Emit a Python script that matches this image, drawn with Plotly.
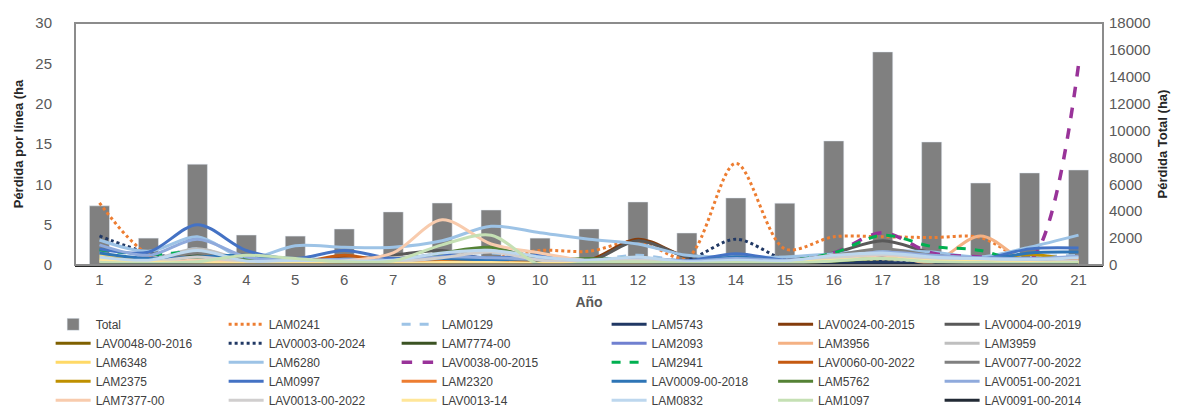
import plotly.graph_objects as go

years = [str(i) for i in range(1, 22)]

total = [4400, 2000, 7500, 2230, 2150, 2680, 3950, 4610, 4090, 2000, 2680,
         4690, 2380, 4990, 4600, 9230, 15850, 9150, 6100, 6850, 7070]

LAM0241 = [7.7, 1.3, 0.5, 0.3, 0.2, 0.5, 0.4, 0.6, 0.8, 1.8, 1.7, 3.0, 0.9, 12.6, 2.0, 3.5, 3.5, 3.4, 3.4, 0.3, 0.2]
LAM0129 = [1.5, 0.8, 2.0, 0.5, 0.8, 0.6, 0.5, 1.2, 1.5, 0.8, 0.6, 1.2, 0.5, 1.0, 0.8, 1.0, 1.5, 1.2, 0.8, 1.0, 1.2]
LAM5743 = [0.2, 0.1, 0.3, 0.1, 0.1, 0.2, 0.1, 0.2, 0.2, 0.1, 0.1, 0.2, 0.1, 0.2, 0.2, 0.3, 0.3, 0.2, 0.2, 0.2, 0.2]
LAV0024_00_2015 = [0.5, 0.3, 1.5, 0.4, 0.3, 1.0, 0.6, 1.0, 0.8, 0.5, 0.6, 3.2, 1.0, 0.6, 0.5, 1.2, 1.8, 1.0, 0.6, 0.4, 0.5]
LAV0004_00_2019 = [0.6, 0.4, 1.8, 0.5, 0.4, 0.6, 1.2, 1.8, 0.6, 0.5, 0.4, 3.0, 1.0, 0.5, 0.6, 1.5, 3.0, 1.5, 0.8, 0.6, 0.7]
LAV0048_00_2016 = [1.0, 0.7, 0.4, 0.3, 0.2, 0.3, 0.2, 0.3, 0.4, 0.3, 0.2, 0.3, 0.2, 0.3, 0.2, 0.5, 0.8, 0.5, 0.4, 0.3, 0.3]
LAV0003_00_2024 = [3.6, 1.5, 0.6, 0.4, 0.3, 0.4, 0.3, 0.5, 0.4, 0.3, 0.3, 0.5, 0.6, 3.2, 0.7, 0.5, 0.6, 0.5, 0.4, 0.3, 0.3]
LAM7774_00 = [0.8, 0.5, 1.2, 0.8, 0.3, 0.4, 0.6, 1.0, 0.8, 0.4, 0.3, 0.5, 0.3, 0.4, 0.3, 0.6, 1.2, 0.6, 0.4, 0.3, 0.4]
LAM2093 = [1.2, 0.5, 0.8, 0.6, 0.5, 0.4, 0.5, 0.9, 0.7, 0.5, 0.4, 0.6, 0.4, 0.5, 0.5, 0.8, 1.0, 0.7, 0.5, 0.6, 0.6]
LAM3956 = [0.6, 0.4, 0.5, 0.3, 0.3, 0.5, 0.4, 0.6, 0.5, 0.3, 0.3, 0.4, 0.3, 0.4, 0.4, 1.0, 1.5, 0.3, 3.6, 0.2, 0.3]
LAM3959 = [0.8, 0.6, 2.0, 0.6, 0.5, 0.7, 0.9, 1.2, 2.0, 1.0, 0.5, 0.8, 0.5, 0.6, 0.6, 1.0, 1.8, 1.0, 0.8, 0.6, 0.7]
LAM6348 = [1.2, 0.5, 0.3, 0.2, 0.2, 0.3, 0.2, 0.3, 0.3, 0.2, 0.2, 0.3, 0.2, 0.3, 0.3, 0.6, 1.0, 0.5, 0.4, 0.4, 0.3]
LAM6280 = [3.1, 1.7, 3.5, 0.8, 2.4, 2.2, 2.2, 3.0, 4.8, 4.0, 3.2, 2.6, 1.2, 1.0, 1.0, 1.4, 1.8, 1.6, 1.0, 2.2, 3.7]
LAV0038_00_2015 = [0.0, 0.0, 0.0, 0.0, 0.0, 0.0, 0.0, 0.0, 0.0, 0.0, 0.0, 0.0, 0.0, 0.0, 0.2, 1.5, 4.0, 1.5, 1.0, 0.5, 24.8]
LAM2941 = [1.9, 1.3, 1.6, 0.8, 0.5, 0.4, 0.5, 0.8, 0.6, 0.5, 0.6, 0.9, 0.4, 0.5, 0.5, 1.5, 3.7, 2.3, 1.8, 0.1, 0.2]
LAV0060_00_2022 = [0.4, 0.3, 0.5, 0.3, 0.2, 1.2, 0.3, 0.5, 0.4, 0.3, 0.3, 0.5, 0.3, 0.4, 0.4, 1.2, 1.5, 0.8, 0.5, 0.3, 0.4]
LAV0077_00_2022 = [0.7, 0.5, 1.5, 0.6, 0.4, 0.5, 0.6, 1.0, 0.8, 0.5, 0.4, 0.8, 0.4, 0.5, 0.5, 1.2, 2.0, 1.2, 0.8, 0.6, 0.6]
LAM2375 = [0.9, 0.6, 0.3, 0.2, 0.2, 0.3, 0.2, 0.4, 0.3, 0.2, 0.2, 0.3, 0.2, 0.3, 0.3, 0.8, 1.0, 0.6, 0.6, 1.3, 0.5]
LAM0997 = [2.0, 1.6, 5.0, 1.8, 0.8, 1.8, 0.8, 1.3, 0.9, 1.2, 0.5, 0.6, 0.5, 1.4, 0.6, 0.8, 1.2, 0.9, 0.7, 2.0, 2.1]
LAM2320 = [0.5, 0.3, 0.4, 0.3, 0.2, 0.3, 0.3, 0.4, 0.3, 0.2, 0.2, 0.3, 0.2, 0.3, 0.3, 1.0, 1.2, 0.6, 0.5, 0.2, 0.8]
LAV0009_00_2018 = [1.5, 0.8, 1.0, 1.2, 0.5, 0.6, 0.5, 0.8, 0.6, 0.9, 0.4, 0.7, 0.4, 1.0, 0.5, 0.7, 1.0, 0.8, 0.6, 1.5, 1.6]
LAM5762 = [0.6, 0.4, 0.7, 0.6, 0.3, 0.4, 0.5, 1.5, 2.2, 0.6, 0.8, 0.5, 0.3, 0.4, 0.3, 0.5, 0.8, 0.5, 0.4, 0.3, 0.4]
LAV0051_00_2021 = [2.5, 1.2, 3.2, 1.0, 0.6, 0.7, 0.6, 1.0, 0.9, 0.7, 0.6, 0.9, 0.5, 0.8, 0.6, 1.0, 1.6, 1.2, 0.9, 0.8, 1.1]
LAM7377_00 = [0.5, 0.3, 0.6, 0.4, 0.3, 0.5, 1.5, 5.6, 2.6, 1.5, 0.5, 0.6, 0.3, 0.4, 0.3, 0.8, 1.2, 0.6, 0.5, 0.3, 0.4]
LAV0013_00_2022 = [0.5, 0.4, 1.0, 0.4, 0.3, 0.4, 0.4, 0.9, 1.6, 0.6, 0.4, 0.6, 0.3, 0.4, 0.4, 0.9, 1.3, 0.8, 0.6, 0.4, 0.5]
LAV0013_14 = [0.7, 0.4, 0.3, 0.2, 0.2, 0.3, 0.2, 0.3, 0.3, 0.2, 0.2, 0.3, 0.2, 0.3, 0.3, 0.6, 0.8, 0.5, 0.4, 0.3, 0.3]
LAM0832 = [1.0, 0.6, 1.8, 0.5, 0.6, 0.5, 0.6, 1.5, 1.8, 1.0, 0.6, 1.0, 0.4, 0.6, 0.5, 1.2, 1.5, 1.0, 0.8, 0.7, 0.9]
LAM1097 = [0.3, 0.2, 0.4, 1.2, 0.8, 0.4, 0.5, 2.5, 3.7, 0.0, 0.3, 0.4, 0.2, 0.3, 0.2, 0.5, 0.8, 0.4, 0.3, 0.2, 0.3]
LAV0091_00_2014 = [0.0, 0.0, 0.0, 0.0, 0.0, 0.0, 0.0, 0.0, 0.0, 0.0, 0.0, 0.0, 0.0, 0.0, 0.0, 0.0, 0.0, 0.0, 0.0, 0.0, 0.0]

# (name, values, color, dash, width) in legend order (after "Total")
series = [
    ("LAM0241", LAM0241, "#ED7D31", "dot", 3),
    ("LAM0129", LAM0129, "#9DC3E6", "dash", 3),
    ("LAM5743", LAM5743, "#203864", "solid", 3),
    ("LAV0024-00-2015", LAV0024_00_2015, "#843C0C", "solid", 3),
    ("LAV0004-00-2019", LAV0004_00_2019, "#595959", "solid", 3),
    ("LAV0048-00-2016", LAV0048_00_2016, "#7F6000", "solid", 3),
    ("LAV0003-00-2024", LAV0003_00_2024, "#203864", "dot", 3),
    ("LAM7774-00", LAM7774_00, "#3B5323", "solid", 3),
    ("LAM2093", LAM2093, "#7080D0", "solid", 3),
    ("LAM3956", LAM3956, "#F4B183", "solid", 3),
    ("LAM3959", LAM3959, "#BFBFBF", "solid", 3),
    ("LAM6348", LAM6348, "#FFD966", "solid", 3),
    ("LAM6280", LAM6280, "#9DC3E6", "solid", 3),
    ("LAV0038-00-2015", LAV0038_00_2015, "#993399", "dash", 3.5),
    ("LAM2941", LAM2941, "#00B050", "dash", 3),
    ("LAV0060-00-2022", LAV0060_00_2022, "#C55A11", "solid", 3),
    ("LAV0077-00-2022", LAV0077_00_2022, "#808080", "solid", 3),
    ("LAM2375", LAM2375, "#BF9000", "solid", 3),
    ("LAM0997", LAM0997, "#4472C4", "solid", 3),
    ("LAM2320", LAM2320, "#ED7D31", "solid", 3),
    ("LAV0009-00-2018", LAV0009_00_2018, "#2E75B6", "solid", 3),
    ("LAM5762", LAM5762, "#548235", "solid", 3),
    ("LAV0051-00-2021", LAV0051_00_2021, "#8FAADC", "solid", 3),
    ("LAM7377-00", LAM7377_00, "#F8CBAD", "solid", 3),
    ("LAV0013-00-2022", LAV0013_00_2022, "#D0CECE", "solid", 3),
    ("LAV0013-14", LAV0013_14, "#FFE699", "solid", 3),
    ("LAM0832", LAM0832, "#BDD7EE", "solid", 3),
    ("LAM1097", LAM1097, "#C5E0B4", "solid", 3),
    ("LAV0091-00-2014", LAV0091_00_2014, "#222A35", "solid", 3),
]

FONT = "Liberation Sans"
fig = go.Figure()

fig.add_trace(go.Bar(x=years, y=total, name="Total", marker_color="#808080",
                     width=0.41, yaxis="y", legend="legend"))

for idx, (name, vals, color, dash, w) in enumerate(series):
    pos = (idx + 1) % 6
    fig.add_trace(go.Scatter(
        x=years, y=vals, name=name, mode="lines", yaxis="y2",
        line=dict(color=color, dash=dash, width=w, shape="spline", smoothing=0.9),
        legend="legend" if pos < 3 else "legend2",
    ))

legend_common = dict(orientation="h", font=dict(family=FONT, size=12, color="#404040"),
                     itemwidth=35, entrywidthmode="pixels", bgcolor="rgba(0,0,0,0)",
                     yref="container", yanchor="top", traceorder="normal")

fig.update_layout(
    width=1180, height=409,
    margin=dict(l=67, r=85, t=15, b=152, autoexpand=False),
    paper_bgcolor="white", plot_bgcolor="white",
    font=dict(family=FONT, color="#595959"),
    barmode="overlay",
    xaxis=dict(type="category", range=[-0.5, 20.5], showgrid=False,
               showline=True, linecolor="#262626", linewidth=2,
               tickfont=dict(size=15, color="#595959"), ticks="",
               ticklabelstandoff=0,
               title=dict(text="<b>Año</b>", font=dict(size=14, color="#595959", family=FONT),
                          standoff=12)),
    yaxis=dict(side="right", range=[0, 18000], dtick=2000, tickformat="d", showgrid=False,
               zeroline=False, tickfont=dict(size=15, color="#595959"), ticks="",
               ticklabelstandoff=5,
               title=dict(text="<b>Pérdida Total (ha)</b>",
                          font=dict(size=13, color="#262626", family=FONT), standoff=8)),
    yaxis2=dict(overlaying="y", side="left", range=[0, 30], dtick=5, showgrid=False,
                zeroline=False, tickfont=dict(size=15, color="#595959"), ticks="",
                ticklabelstandoff=22,
                title=dict(text="<b>Pérdida por línea (ha</b>",
                           font=dict(size=13, color="#262626", family=FONT), standoff=8)),
    legend=dict(**legend_common, x=-0.0237, xref="paper", xanchor="left",
                y=0.262, entrywidth=123),
    legend2=dict(**legend_common, x=1.0035, xref="paper", xanchor="right",
                 y=0.262, entrywidth=116.5),
    shapes=[dict(type="rect", xref="paper", yref="paper", x0=0, x1=1, y0=0, y1=1,
                 line=dict(color="#8C8C8C", width=2), layer="above")],
    showlegend=True,
)

fig.write_html("out.html")
